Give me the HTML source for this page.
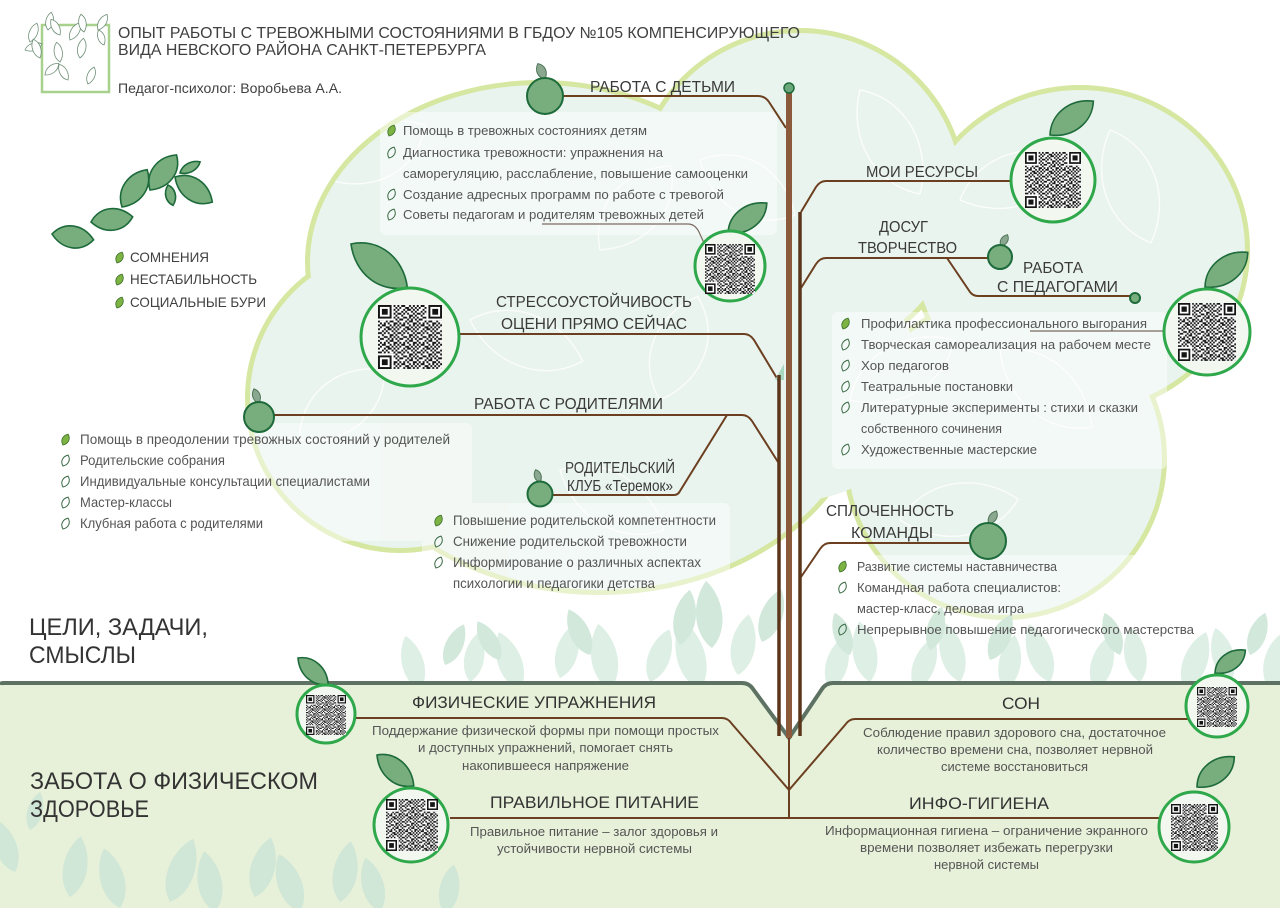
<!DOCTYPE html>
<html lang="ru">
<head>
<meta charset="utf-8">
<style>
html,body{margin:0;padding:0;background:#fff;}
body{width:1280px;height:908px;overflow:hidden;}
svg{display:block;}
text{font-family:"Liberation Sans",sans-serif;}
.t{fill:#404040;}
.li{fill:#555;font-size:13px;}
.pl{fill:#555;font-size:14px;}
.gd{fill:#555;font-size:13px;}
.lb{fill:#3a3a3a;font-size:16px;}
.gl{fill:#333;font-size:17px;}
.big{fill:#333;font-size:24px;}
.lf{vector-effect:non-scaling-stroke;}
</style>
</head>
<body>
<svg width="1280" height="908" viewBox="0 0 1280 908" xmlns="http://www.w3.org/2000/svg">
<defs>
  <path id="bgl" d="M0,0 C-16,-14 -13,-42 0,-56 C13,-42 16,-14 0,0Z"/>
  <pattern id="qp" width="20" height="20" patternUnits="userSpaceOnUse">
    <path fill="#151515" d="M0 0h2v2h-2z M4 0h4v2h-4z M12 0h2v2h-2z M16 0h2v2h-2z M2 2h2v2h-2z M8 2h4v2h-4z M14 2h2v2h-2z M18 2h2v2h-2z M0 4h2v2h-2z M6 4h2v2h-2z M10 4h4v2h-4z M16 4h2v2h-2z M4 6h2v2h-2z M8 6h2v2h-2z M14 6h2v2h-2z M18 6h2v2h-2z M0 8h4v2h-4z M6 8h2v2h-2z M10 8h2v2h-2z M16 8h2v2h-2z M4 10h2v2h-2z M12 10h4v2h-4z M18 10h2v2h-2z M0 12h2v2h-2z M6 12h4v2h-4z M12 12h2v2h-2z M16 12h2v2h-2z M2 14h4v2h-4z M10 14h2v2h-2z M14 14h2v2h-2z M18 14h2v2h-2z M0 16h2v2h-2z M8 16h2v2h-2z M12 16h4v2h-4z M2 18h2v2h-2z M6 18h2v2h-2z M10 18h2v2h-2z M16 18h4v2h-4z"/>
  </pattern>
  <symbol id="qr" viewBox="0 0 66 66">
    <rect width="66" height="66" fill="#fff"/>
    <rect width="66" height="66" fill="url(#qp)"/>
    <rect x="0" y="0" width="16" height="16" fill="#fff"/>
    <rect x="50" y="0" width="16" height="16" fill="#fff"/>
    <rect x="0" y="50" width="16" height="16" fill="#fff"/>
    <rect x="0" y="0" width="14" height="14" fill="#151515"/>
    <rect x="2" y="2" width="10" height="10" fill="#fff"/>
    <rect x="4" y="4" width="6" height="6" fill="#151515"/>
    <rect x="52" y="0" width="14" height="14" fill="#151515"/>
    <rect x="54" y="2" width="10" height="10" fill="#fff"/>
    <rect x="56" y="4" width="6" height="6" fill="#151515"/>
    <rect x="0" y="52" width="14" height="14" fill="#151515"/>
    <rect x="2" y="54" width="10" height="10" fill="#fff"/>
    <rect x="4" y="56" width="6" height="6" fill="#151515"/>
  </symbol>
  <clipPath id="cloudclip">
    <ellipse cx="540" cy="262" rx="230" ry="177"/>
    <circle cx="800" cy="195" r="162"/>
    <ellipse cx="1080" cy="250" rx="165" ry="160"/>
    <circle cx="400" cy="398" r="150"/>
    <ellipse cx="600" cy="385" rx="265" ry="205"/>
    <circle cx="1005" cy="458" r="157"/>
    <circle cx="800" cy="380" r="120"/>
  </clipPath>
</defs>

<rect width="1280" height="908" fill="#fff"/>

<!-- header logo -->
<rect x="42" y="25" width="67" height="67" fill="none" stroke="#a9d18e" stroke-width="2.5"/>
<g fill="#fff" stroke="#6f8f77" stroke-width="0.8">
  <path class="lf" vector-effect="non-scaling-stroke" d="M0,0C.25,-.5 .7,-.5 1,0C.75,.5 .3,.5 0,0Z" transform="translate(30,42) rotate(-70) scale(20,11)"/>
  <path class="lf" vector-effect="non-scaling-stroke" d="M0,0C.25,-.5 .7,-.5 1,0C.75,.5 .3,.5 0,0Z" transform="translate(25,50) rotate(-20) scale(18,10)"/>
  <path class="lf" vector-effect="non-scaling-stroke" d="M0,0C.25,-.5 .7,-.5 1,0C.75,.5 .3,.5 0,0Z" transform="translate(40,58) rotate(-110) scale(20,11)"/>
  <path class="lf" vector-effect="non-scaling-stroke" d="M0,0C.25,-.5 .7,-.5 1,0C.75,.5 .3,.5 0,0Z" transform="translate(48,30) rotate(-80) scale(18,10)"/>
  <path class="lf" vector-effect="non-scaling-stroke" d="M0,0C.25,-.5 .7,-.5 1,0C.75,.5 .3,.5 0,0Z" transform="translate(60,35) rotate(-120) scale(18,10)"/>
  <path class="lf" vector-effect="non-scaling-stroke" d="M0,0C.25,-.5 .7,-.5 1,0C.75,.5 .3,.5 0,0Z" transform="translate(70,40) rotate(-60) scale(20,11)"/>
  <path class="lf" vector-effect="non-scaling-stroke" d="M0,0C.25,-.5 .7,-.5 1,0C.75,.5 .3,.5 0,0Z" transform="translate(84,32) rotate(-100) scale(18,10)"/>
  <path class="lf" vector-effect="non-scaling-stroke" d="M0,0C.25,-.5 .7,-.5 1,0C.75,.5 .3,.5 0,0Z" transform="translate(98,30) rotate(-60) scale(18,10)"/>
  <path class="lf" vector-effect="non-scaling-stroke" d="M0,0C.25,-.5 .7,-.5 1,0C.75,.5 .3,.5 0,0Z" transform="translate(104,45) rotate(-110) scale(16,9)"/>
  <path class="lf" vector-effect="non-scaling-stroke" d="M0,0C.25,-.5 .7,-.5 1,0C.75,.5 .3,.5 0,0Z" transform="translate(80,58) rotate(-80) scale(20,11)"/>
  <path class="lf" vector-effect="non-scaling-stroke" d="M0,0C.25,-.5 .7,-.5 1,0C.75,.5 .3,.5 0,0Z" transform="translate(60,62) rotate(-100) scale(20,11)"/>
  <path class="lf" vector-effect="non-scaling-stroke" d="M0,0C.25,-.5 .7,-.5 1,0C.75,.5 .3,.5 0,0Z" transform="translate(45,75) rotate(-40) scale(18,10)"/>
  <path class="lf" vector-effect="non-scaling-stroke" d="M0,0C.25,-.5 .7,-.5 1,0C.75,.5 .3,.5 0,0Z" transform="translate(68,80) rotate(-120) scale(18,10)"/>
  <path class="lf" vector-effect="non-scaling-stroke" d="M0,0C.25,-.5 .7,-.5 1,0C.75,.5 .3,.5 0,0Z" transform="translate(88,84) rotate(-70) scale(18,10)"/>
</g>

<!-- cloud -->
<g fill="none" stroke="#d6e7a2" stroke-width="10">
  <ellipse cx="540" cy="262" rx="230" ry="177"/>
  <circle cx="800" cy="195" r="162"/>
  <ellipse cx="1080" cy="250" rx="165" ry="160"/>
  <circle cx="400" cy="398" r="150"/>
  <ellipse cx="600" cy="385" rx="265" ry="205"/>
  <circle cx="1005" cy="458" r="157"/>
</g>
<g fill="#eaf4ee">
  <ellipse cx="540" cy="262" rx="230" ry="177"/>
  <circle cx="800" cy="195" r="162"/>
  <ellipse cx="1080" cy="250" rx="165" ry="160"/>
  <circle cx="400" cy="398" r="150"/>
  <ellipse cx="600" cy="385" rx="265" ry="205"/>
  <circle cx="1005" cy="458" r="157"/>
  <circle cx="800" cy="380" r="120"/>
</g>
<g clip-path="url(#cloudclip)" fill="none" stroke="#ffffff" stroke-width="1.4" opacity="0.8">
  <path class="lf" vector-effect="non-scaling-stroke" d="M0,0C.25,-.5 .7,-.5 1,0C.75,.5 .3,.5 0,0Z" transform="translate(330,180) rotate(-30) scale(110,70)"/>
  <path class="lf" vector-effect="non-scaling-stroke" d="M0,0C.25,-.5 .7,-.5 1,0C.75,.5 .3,.5 0,0Z" transform="translate(470,320) rotate(20) scale(120,70)"/>
  <path class="lf" vector-effect="non-scaling-stroke" d="M0,0C.25,-.5 .7,-.5 1,0C.75,.5 .3,.5 0,0Z" transform="translate(600,250) rotate(-50) scale(110,70)"/>
  <path class="lf" vector-effect="non-scaling-stroke" d="M0,0C.25,-.5 .7,-.5 1,0C.75,.5 .3,.5 0,0Z" transform="translate(700,160) rotate(30) scale(110,70)"/>
  <path class="lf" vector-effect="non-scaling-stroke" d="M0,0C.25,-.5 .7,-.5 1,0C.75,.5 .3,.5 0,0Z" transform="translate(860,90) rotate(60) scale(120,70)"/>
  <path class="lf" vector-effect="non-scaling-stroke" d="M0,0C.25,-.5 .7,-.5 1,0C.75,.5 .3,.5 0,0Z" transform="translate(960,200) rotate(-20) scale(120,70)"/>
  <path class="lf" vector-effect="non-scaling-stroke" d="M0,0C.25,-.5 .7,-.5 1,0C.75,.5 .3,.5 0,0Z" transform="translate(1110,130) rotate(70) scale(120,70)"/>
  <path class="lf" vector-effect="non-scaling-stroke" d="M0,0C.25,-.5 .7,-.5 1,0C.75,.5 .3,.5 0,0Z" transform="translate(300,440) rotate(-40) scale(110,70)"/>
  <path class="lf" vector-effect="non-scaling-stroke" d="M0,0C.25,-.5 .7,-.5 1,0C.75,.5 .3,.5 0,0Z" transform="translate(560,470) rotate(30) scale(120,70)"/>
  <path class="lf" vector-effect="non-scaling-stroke" d="M0,0C.25,-.5 .7,-.5 1,0C.75,.5 .3,.5 0,0Z" transform="translate(850,400) rotate(-30) scale(120,70)"/>
  <path class="lf" vector-effect="non-scaling-stroke" d="M0,0C.25,-.5 .7,-.5 1,0C.75,.5 .3,.5 0,0Z" transform="translate(1000,350) rotate(40) scale(120,70)"/>
  <path class="lf" vector-effect="non-scaling-stroke" d="M0,0C.25,-.5 .7,-.5 1,0C.75,.5 .3,.5 0,0Z" transform="translate(900,520) rotate(-10) scale(120,70)"/>
  <path class="lf" vector-effect="non-scaling-stroke" d="M0,0C.25,-.5 .7,-.5 1,0C.75,.5 .3,.5 0,0Z" transform="translate(660,400) rotate(-70) scale(110,70)"/>
</g>

<!-- header text -->
<text class="t" x="118" y="38" font-size="16" textLength="682" lengthAdjust="spacingAndGlyphs">ОПЫТ РАБОТЫ С ТРЕВОЖНЫМИ СОСТОЯНИЯМИ В ГБДОУ №105 КОМПЕНСИРУЮЩЕГО</text>
<text class="t" x="118" y="55" font-size="16" textLength="368" lengthAdjust="spacingAndGlyphs">ВИДА НЕВСКОГО РАЙОНА САНКТ-ПЕТЕРБУРГА</text>
<text class="t" x="118" y="93" font-size="14" textLength="224" lengthAdjust="spacingAndGlyphs">Педагог-психолог: Воробьева А.А.</text>

<!-- list boxes -->
<g fill="#ffffff" opacity="0.45">
  <rect x="380" y="112" width="397" height="123" rx="6"/>
  <rect x="60" y="423" width="412" height="118" rx="6"/>
  <rect x="422" y="503" width="308" height="99" rx="6"/>
  <rect x="832" y="312" width="335" height="157" rx="6"/>
  <rect x="820" y="555" width="390" height="90" rx="6"/>
</g>

<!-- faint leaves above ground -->
<g fill="#deefe5">
  <use href="#bgl" transform="translate(420,690) rotate(-15)"/>
  <use href="#bgl" transform="translate(470,682) rotate(10) scale(0.9)"/>
  <use href="#bgl" transform="translate(520,690) rotate(-20) scale(1.1)"/>
  <use href="#bgl" transform="translate(560,678) rotate(15)"/>
  <use href="#bgl" transform="translate(610,690) rotate(-10) scale(1.2)"/>
  <use href="#bgl" transform="translate(650,682) rotate(20)"/>
  <use href="#bgl" transform="translate(700,690) rotate(-15) scale(1.3)"/>
  <use href="#bgl" transform="translate(738,675) rotate(10) scale(1.1)"/>
  <use href="#bgl" transform="translate(830,690) rotate(15)"/>
  <use href="#bgl" transform="translate(870,682) rotate(-10) scale(1.1)"/>
  <use href="#bgl" transform="translate(915,690) rotate(20)"/>
  <use href="#bgl" transform="translate(960,682) rotate(-15) scale(1.1)"/>
  <use href="#bgl" transform="translate(1005,690) rotate(10)"/>
  <use href="#bgl" transform="translate(1050,682) rotate(-20) scale(1.1)"/>
  <use href="#bgl" transform="translate(1095,690) rotate(15)"/>
  <use href="#bgl" transform="translate(1140,682) rotate(-10)"/>
  <use href="#bgl" transform="translate(1185,690) rotate(20) scale(1.1)"/>
  <use href="#bgl" transform="translate(1230,682) rotate(-15)"/>
  <use href="#bgl" transform="translate(1270,690) rotate(10)"/>
</g>
<g fill="#d2e8db">
  <use href="#bgl" transform="translate(445,665) rotate(25) scale(0.8)"/>
  <use href="#bgl" transform="translate(590,655) rotate(-25) scale(0.9)"/>
  <use href="#bgl" transform="translate(680,645) rotate(10)"/>
  <use href="#bgl" transform="translate(712,648) rotate(-5) scale(1.2)"/>
  <use href="#bgl" transform="translate(762,642) rotate(20)"/>
  <use href="#bgl" transform="translate(850,655) rotate(-20) scale(0.8)"/>
  <use href="#bgl" transform="translate(990,660) rotate(25) scale(0.9)"/>
  <use href="#bgl" transform="translate(1120,655) rotate(-20) scale(0.8)"/>
  <use href="#bgl" transform="translate(1250,655) rotate(20) scale(0.8)"/>
  <use href="#bgl" transform="translate(500,660) rotate(-30) scale(0.8)"/>
  <use href="#bgl" transform="translate(930,650) rotate(15) scale(0.8)"/>
</g>

<!-- ground -->
<path d="M0,683 H742 Q749,683 753,689 L789,738 L822,689 Q826,683 833,683 H1280 V908 H0 Z" fill="#e7f1d9"/>
<g fill="#d0e6d6">
  <use href="#bgl" transform="translate(15,872) rotate(-20)"/>
  <use href="#bgl" transform="translate(30,830) rotate(15) scale(0.7)"/>
  <use href="#bgl" transform="translate(70,897) rotate(10) scale(1.1)"/>
  <use href="#bgl" transform="translate(120,908) rotate(-15) scale(1.1)"/>
  <use href="#bgl" transform="translate(170,902) rotate(20) scale(1.2)"/>
  <use href="#bgl" transform="translate(215,912) rotate(-10) scale(1.1)"/>
  <use href="#bgl" transform="translate(255,897) rotate(15) scale(1.1)"/>
  <use href="#bgl" transform="translate(300,912) rotate(-20) scale(1.1)"/>
  <use href="#bgl" transform="translate(340,902) rotate(10) scale(1.1)"/>
  <use href="#bgl" transform="translate(380,912) rotate(-15)"/>
  <use href="#bgl" transform="translate(445,914) rotate(10) scale(0.9)"/>
</g>
<path d="M0,685 Q0,683 4,683 H742 Q749,683 753,689 L789,738 L822,689 Q826,683 833,683 H1280" fill="none" stroke="#5e7263" stroke-width="4" stroke-linejoin="round"/>

<!-- connectors -->
<g fill="none" stroke="#6b3f1f" stroke-width="2" stroke-linejoin="round">
  <path d="M563,96 H758 Q765,96 769,102 L786,128"/>
  <path d="M1012,181 H826 Q820,181 816,187 L801,212"/>
  <path d="M989,258 H826 Q820,258 816,264 L801,288"/>
  <path d="M947,258 L970,292 Q973,296 978,296 H1131"/>
  <path d="M459,334 H744 Q750,334 754,340 L778,380"/>
  <path d="M274,415 H742 Q748,415 752,421 L778,462"/>
  <path d="M727,415 L680,491 Q678,495 674,495 H552"/>
  <path d="M971,543 H830 Q824,543 820,549 L801,577"/>
  <path d="M356,718 H722 Q728,718 732,724 L789,790"/>
  <path d="M1188,719 H855 Q849,719 845,725 L789,790"/>
  <path d="M789,736 V818"/>
  <path d="M450,818 H1163"/>
</g>
<g fill="none" stroke="#7a6a60" stroke-width="1.2">
  <path d="M542,224 H688 Q695,224 699,232 L704,243"/>
  <path d="M1030,331 H1164"/>
</g>

<!-- trunks -->
<polygon points="775,380 784,364 784,380" fill="#a8d8c0"/>
<path d="M779,375 V736" stroke="#5a3519" stroke-width="3.5"/>
<path d="M800,212 V736" stroke="#5a3519" stroke-width="3.5"/>
<path d="M789,90 V738" stroke="#8a5a3a" stroke-width="6"/>
<circle cx="789" cy="88" r="5" fill="#6aa77a" stroke="#1f6b3a" stroke-width="1.5"/>

<!-- big leaves -->
<g fill="#78ad7e" stroke="#1d6a3a" stroke-width="1.6">
  <path class="lf" vector-effect="non-scaling-stroke" d="M0,0C.25,-.5 .7,-.5 1,0C.75,.5 .3,.5 0,0Z" transform="translate(351,244) rotate(37.5) scale(71,43)"/>
  <path class="lf" vector-effect="non-scaling-stroke" d="M0,0C.25,-.5 .7,-.5 1,0C.75,.5 .3,.5 0,0Z" transform="translate(728,233) rotate(-37.6) scale(49,29)"/>
  <path class="lf" vector-effect="non-scaling-stroke" d="M0,0C.25,-.5 .7,-.5 1,0C.75,.5 .3,.5 0,0Z" transform="translate(1050,135) rotate(-38) scale(55,33)"/>
  <path class="lf" vector-effect="non-scaling-stroke" d="M0,0C.25,-.5 .7,-.5 1,0C.75,.5 .3,.5 0,0Z" transform="translate(1205,287) rotate(-39) scale(55,33)"/>
  <path class="lf" vector-effect="non-scaling-stroke" d="M0,0C.25,-.5 .7,-.5 1,0C.75,.5 .3,.5 0,0Z" transform="translate(298,658) rotate(41) scale(40,24)"/>
  <path class="lf" vector-effect="non-scaling-stroke" d="M0,0C.25,-.5 .7,-.5 1,0C.75,.5 .3,.5 0,0Z" transform="translate(377,755) rotate(40) scale(48,29)"/>
  <path class="lf" vector-effect="non-scaling-stroke" d="M0,0C.25,-.5 .7,-.5 1,0C.75,.5 .3,.5 0,0Z" transform="translate(1215,673) rotate(-37) scale(38,23)"/>
  <path class="lf" vector-effect="non-scaling-stroke" d="M0,0C.25,-.5 .7,-.5 1,0C.75,.5 .3,.5 0,0Z" transform="translate(1197,787) rotate(-39) scale(48,29)"/>
  <!-- left cluster -->
  <path class="lf" vector-effect="non-scaling-stroke" d="M0,0C.25,-.5 .7,-.5 1,0C.75,.5 .3,.5 0,0Z" transform="translate(52,234) rotate(8) scale(42,29)"/>
  <path class="lf" vector-effect="non-scaling-stroke" d="M0,0C.25,-.5 .7,-.5 1,0C.75,.5 .3,.5 0,0Z" transform="translate(91,222) rotate(-7) scale(42,29)"/>
  <path class="lf" vector-effect="non-scaling-stroke" d="M0,0C.25,-.5 .7,-.5 1,0C.75,.5 .3,.5 0,0Z" transform="translate(122,207) rotate(-56) scale(45,29)"/>
  <path class="lf" vector-effect="non-scaling-stroke" d="M0,0C.25,-.5 .7,-.5 1,0C.75,.5 .3,.5 0,0Z" transform="translate(150,190) rotate(-53) scale(44,29)"/>
  <path class="lf" vector-effect="non-scaling-stroke" d="M0,0C.25,-.5 .7,-.5 1,0C.75,.5 .3,.5 0,0Z" transform="translate(180,173) rotate(-29) scale(23,12)"/>
  <path class="lf" vector-effect="non-scaling-stroke" d="M0,0C.25,-.5 .7,-.5 1,0C.75,.5 .3,.5 0,0Z" transform="translate(168,185) rotate(76) scale(21,13)"/>
  <path class="lf" vector-effect="non-scaling-stroke" d="M0,0C.25,-.5 .7,-.5 1,0C.75,.5 .3,.5 0,0Z" transform="translate(175,177) rotate(34) scale(45,29)"/>
</g>

<!-- stem leaves -->
<g fill="#8aa88f" stroke="#4f7558" stroke-width="1">
  <path class="lf" vector-effect="non-scaling-stroke" d="M0,0C.25,-.5 .7,-.5 1,0C.75,.5 .3,.5 0,0Z" transform="translate(545,79) rotate(-115) scale(17,12)"/>
  <path class="lf" vector-effect="non-scaling-stroke" d="M0,0C.25,-.5 .7,-.5 1,0C.75,.5 .3,.5 0,0Z" transform="translate(259,403) rotate(-110) scale(15,10)"/>
  <path class="lf" vector-effect="non-scaling-stroke" d="M0,0C.25,-.5 .7,-.5 1,0C.75,.5 .3,.5 0,0Z" transform="translate(540,482) rotate(-110) scale(13,9)"/>
  <path class="lf" vector-effect="non-scaling-stroke" d="M0,0C.25,-.5 .7,-.5 1,0C.75,.5 .3,.5 0,0Z" transform="translate(1001,246) rotate(-60) scale(13,9)"/>
  <path class="lf" vector-effect="non-scaling-stroke" d="M0,0C.25,-.5 .7,-.5 1,0C.75,.5 .3,.5 0,0Z" transform="translate(989,524) rotate(-60) scale(15,10)"/>
</g>

<!-- apples -->
<g fill="#78ad7e" stroke="#1d6a3a" stroke-width="2">
  <circle cx="545" cy="96" r="18"/>
  <circle cx="259" cy="417" r="15"/>
  <circle cx="540" cy="494" r="12.5"/>
  <circle cx="1000" cy="257" r="12"/>
  <circle cx="988" cy="541" r="18"/>
  <circle cx="1135" cy="298" r="5"/>
</g>

<!-- QR circles -->
<g fill="#f2f7f0" stroke="#2ea84a" stroke-width="3">
  <circle cx="730" cy="266" r="35"/>
  <circle cx="410" cy="337" r="49"/>
  <circle cx="1053" cy="180" r="42"/>
  <circle cx="1207" cy="332" r="43"/>
  <circle cx="326" cy="714" r="29"/>
  <circle cx="411" cy="825" r="37"/>
  <circle cx="1217" cy="706" r="31"/>
  <circle cx="1194" cy="827" r="35"/>
</g>
<use href="#qr" x="705" y="244" width="50" height="50"/>
<use href="#qr" x="378" y="305" width="64" height="64"/>
<use href="#qr" x="1025" y="152" width="56" height="56"/>
<use href="#qr" x="1178" y="303" width="58" height="58"/>
<use href="#qr" x="306" y="695" width="40" height="40"/>
<use href="#qr" x="386" y="799" width="52" height="52"/>
<use href="#qr" x="1197" y="687" width="40" height="40"/>
<use href="#qr" x="1171" y="804" width="47" height="47"/>

<!-- bullets -->
<g fill="#7cb342" stroke="#3b6e2a" stroke-width="0.8">
  <path class="lf" vector-effect="non-scaling-stroke" d="M0,0C.25,-.5 .7,-.5 1,0C.75,.5 .3,.5 0,0Z" transform="translate(389,136) rotate(-65) scale(12,9)"/>
  <path class="lf" vector-effect="non-scaling-stroke" d="M0,0C.25,-.5 .7,-.5 1,0C.75,.5 .3,.5 0,0Z" transform="translate(117,263) rotate(-65) scale(12,9)"/>
  <path class="lf" vector-effect="non-scaling-stroke" d="M0,0C.25,-.5 .7,-.5 1,0C.75,.5 .3,.5 0,0Z" transform="translate(117,285) rotate(-65) scale(12,9)"/>
  <path class="lf" vector-effect="non-scaling-stroke" d="M0,0C.25,-.5 .7,-.5 1,0C.75,.5 .3,.5 0,0Z" transform="translate(117,308) rotate(-65) scale(12,9)"/>
  <path class="lf" vector-effect="non-scaling-stroke" d="M0,0C.25,-.5 .7,-.5 1,0C.75,.5 .3,.5 0,0Z" transform="translate(63,445) rotate(-65) scale(12,9)"/>
  <path class="lf" vector-effect="non-scaling-stroke" d="M0,0C.25,-.5 .7,-.5 1,0C.75,.5 .3,.5 0,0Z" transform="translate(436,526) rotate(-65) scale(12,9)"/>
  <path class="lf" vector-effect="non-scaling-stroke" d="M0,0C.25,-.5 .7,-.5 1,0C.75,.5 .3,.5 0,0Z" transform="translate(843,329) rotate(-65) scale(12,9)"/>
  <path class="lf" vector-effect="non-scaling-stroke" d="M0,0C.25,-.5 .7,-.5 1,0C.75,.5 .3,.5 0,0Z" transform="translate(840,572) rotate(-65) scale(12,9)"/>
</g>
<g fill="none" stroke="#3a6a45" stroke-width="1">
  <path class="lf" vector-effect="non-scaling-stroke" d="M0,0C.25,-.5 .7,-.5 1,0C.75,.5 .3,.5 0,0Z" transform="translate(389,158) rotate(-65) scale(12,9)"/>
  <path class="lf" vector-effect="non-scaling-stroke" d="M0,0C.25,-.5 .7,-.5 1,0C.75,.5 .3,.5 0,0Z" transform="translate(389,200) rotate(-65) scale(12,9)"/>
  <path class="lf" vector-effect="non-scaling-stroke" d="M0,0C.25,-.5 .7,-.5 1,0C.75,.5 .3,.5 0,0Z" transform="translate(389,220) rotate(-65) scale(12,9)"/>
  <path class="lf" vector-effect="non-scaling-stroke" d="M0,0C.25,-.5 .7,-.5 1,0C.75,.5 .3,.5 0,0Z" transform="translate(63,466) rotate(-65) scale(12,9)"/>
  <path class="lf" vector-effect="non-scaling-stroke" d="M0,0C.25,-.5 .7,-.5 1,0C.75,.5 .3,.5 0,0Z" transform="translate(63,487) rotate(-65) scale(12,9)"/>
  <path class="lf" vector-effect="non-scaling-stroke" d="M0,0C.25,-.5 .7,-.5 1,0C.75,.5 .3,.5 0,0Z" transform="translate(63,508) rotate(-65) scale(12,9)"/>
  <path class="lf" vector-effect="non-scaling-stroke" d="M0,0C.25,-.5 .7,-.5 1,0C.75,.5 .3,.5 0,0Z" transform="translate(63,529) rotate(-65) scale(12,9)"/>
  <path class="lf" vector-effect="non-scaling-stroke" d="M0,0C.25,-.5 .7,-.5 1,0C.75,.5 .3,.5 0,0Z" transform="translate(436,547) rotate(-65) scale(12,9)"/>
  <path class="lf" vector-effect="non-scaling-stroke" d="M0,0C.25,-.5 .7,-.5 1,0C.75,.5 .3,.5 0,0Z" transform="translate(436,568) rotate(-65) scale(12,9)"/>
  <path class="lf" vector-effect="non-scaling-stroke" d="M0,0C.25,-.5 .7,-.5 1,0C.75,.5 .3,.5 0,0Z" transform="translate(843,350) rotate(-65) scale(12,9)"/>
  <path class="lf" vector-effect="non-scaling-stroke" d="M0,0C.25,-.5 .7,-.5 1,0C.75,.5 .3,.5 0,0Z" transform="translate(843,371) rotate(-65) scale(12,9)"/>
  <path class="lf" vector-effect="non-scaling-stroke" d="M0,0C.25,-.5 .7,-.5 1,0C.75,.5 .3,.5 0,0Z" transform="translate(843,392) rotate(-65) scale(12,9)"/>
  <path class="lf" vector-effect="non-scaling-stroke" d="M0,0C.25,-.5 .7,-.5 1,0C.75,.5 .3,.5 0,0Z" transform="translate(843,413) rotate(-65) scale(12,9)"/>
  <path class="lf" vector-effect="non-scaling-stroke" d="M0,0C.25,-.5 .7,-.5 1,0C.75,.5 .3,.5 0,0Z" transform="translate(843,455) rotate(-65) scale(12,9)"/>
  <path class="lf" vector-effect="non-scaling-stroke" d="M0,0C.25,-.5 .7,-.5 1,0C.75,.5 .3,.5 0,0Z" transform="translate(840,593) rotate(-65) scale(12,9)"/>
  <path class="lf" vector-effect="non-scaling-stroke" d="M0,0C.25,-.5 .7,-.5 1,0C.75,.5 .3,.5 0,0Z" transform="translate(840,635) rotate(-65) scale(12,9)"/>
</g>

<!-- tree labels -->
<text class="lb" x="590" y="92" textLength="145" lengthAdjust="spacingAndGlyphs">РАБОТА С ДЕТЬМИ</text>
<text class="li" x="403" y="135" textLength="244" lengthAdjust="spacingAndGlyphs">Помощь в тревожных состояниях детям</text>
<text class="li" x="403" y="157" textLength="260" lengthAdjust="spacingAndGlyphs">Диагностика тревожности: упражнения на</text>
<text class="li" x="403" y="178" textLength="345" lengthAdjust="spacingAndGlyphs">саморегуляцию, расслабление, повышение самооценки</text>
<text class="li" x="403" y="199" textLength="321" lengthAdjust="spacingAndGlyphs">Создание адресных программ по работе с тревогой</text>
<text class="li" x="403" y="219" textLength="301" lengthAdjust="spacingAndGlyphs">Советы педагогам и родителям тревожных детей</text>

<text class="t" x="130" y="262" font-size="14" textLength="79" lengthAdjust="spacingAndGlyphs">СОМНЕНИЯ</text>
<text class="t" x="130" y="284" font-size="14" textLength="127" lengthAdjust="spacingAndGlyphs">НЕСТАБИЛЬНОСТЬ</text>
<text class="t" x="130" y="307" font-size="14" textLength="136" lengthAdjust="spacingAndGlyphs">СОЦИАЛЬНЫЕ БУРИ</text>

<text class="lb" x="496" y="307" textLength="196" lengthAdjust="spacingAndGlyphs">СТРЕССОУСТОЙЧИВОСТЬ</text>
<text class="lb" x="501" y="329" textLength="186" lengthAdjust="spacingAndGlyphs">ОЦЕНИ ПРЯМО СЕЙЧАС</text>
<text class="lb" x="474" y="409" textLength="189" lengthAdjust="spacingAndGlyphs">РАБОТА С РОДИТЕЛЯМИ</text>
<text class="lb" x="565" y="473" font-size="14" textLength="110" lengthAdjust="spacingAndGlyphs">РОДИТЕЛЬСКИЙ</text>
<text class="lb" x="567" y="491" font-size="14" textLength="106" lengthAdjust="spacingAndGlyphs">КЛУБ «Теремок»</text>

<text class="pl" x="80" y="444" textLength="370" lengthAdjust="spacingAndGlyphs">Помощь в преодолении тревожных состояний у  родителей</text>
<text class="pl" x="80" y="465" textLength="145" lengthAdjust="spacingAndGlyphs">Родительские собрания</text>
<text class="pl" x="80" y="486" textLength="290" lengthAdjust="spacingAndGlyphs">Индивидуальные консультации специалистами</text>
<text class="pl" x="80" y="507" textLength="92" lengthAdjust="spacingAndGlyphs">Мастер-классы</text>
<text class="pl" x="80" y="528" textLength="183" lengthAdjust="spacingAndGlyphs">Клубная работа с родителями</text>

<text class="pl" x="453" y="525" textLength="263" lengthAdjust="spacingAndGlyphs">Повышение родительской компетентности</text>
<text class="pl" x="453" y="546" textLength="234" lengthAdjust="spacingAndGlyphs">Снижение родительской тревожности</text>
<text class="pl" x="453" y="567" textLength="248" lengthAdjust="spacingAndGlyphs">Информирование о различных аспектах</text>
<text class="pl" x="453" y="588" textLength="202" lengthAdjust="spacingAndGlyphs">психологии и педагогики детства</text>

<text class="lb" x="866" y="177" textLength="112" lengthAdjust="spacingAndGlyphs">МОИ РЕСУРСЫ</text>
<text class="lb" x="879" y="232" textLength="49" lengthAdjust="spacingAndGlyphs">ДОСУГ</text>
<text class="lb" x="858" y="253" textLength="99" lengthAdjust="spacingAndGlyphs">ТВОРЧЕСТВО</text>
<text class="lb" x="1023" y="273" textLength="60" lengthAdjust="spacingAndGlyphs">РАБОТА</text>
<text class="lb" x="997" y="292" textLength="121" lengthAdjust="spacingAndGlyphs">С ПЕДАГОГАМИ</text>

<text class="li" x="861" y="328" textLength="286" lengthAdjust="spacingAndGlyphs">Профилактика профессионального выгорания</text>
<text class="li" x="861" y="349" textLength="290" lengthAdjust="spacingAndGlyphs">Творческая самореализация на рабочем месте</text>
<text class="li" x="861" y="370" textLength="88" lengthAdjust="spacingAndGlyphs">Хор педагогов</text>
<text class="li" x="861" y="391" textLength="152" lengthAdjust="spacingAndGlyphs">Театральные постановки</text>
<text class="li" x="861" y="412" textLength="277" lengthAdjust="spacingAndGlyphs">Литературные эксперименты : стихи и сказки</text>
<text class="li" x="861" y="433" textLength="141" lengthAdjust="spacingAndGlyphs">собственного сочинения</text>
<text class="li" x="861" y="454" textLength="176" lengthAdjust="spacingAndGlyphs">Художественные мастерские</text>

<text class="lb" x="826" y="516" textLength="128" lengthAdjust="spacingAndGlyphs">СПЛОЧЕННОСТЬ</text>
<text class="lb" x="851" y="538" textLength="82" lengthAdjust="spacingAndGlyphs">КОМАНДЫ</text>
<text class="li" x="857" y="571" textLength="200" lengthAdjust="spacingAndGlyphs">Развитие системы наставничества</text>
<text class="li" x="857" y="592" textLength="204" lengthAdjust="spacingAndGlyphs">Командная работа специалистов:</text>
<text class="li" x="857" y="613" textLength="167" lengthAdjust="spacingAndGlyphs">мастер-класс, деловая игра</text>
<text class="li" x="857" y="634" textLength="337" lengthAdjust="spacingAndGlyphs">Непрерывное повышение педагогического мастерства</text>

<text class="big" x="29" y="635" textLength="179" lengthAdjust="spacingAndGlyphs">ЦЕЛИ, ЗАДАЧИ,</text>
<text class="big" x="29" y="663" textLength="107" lengthAdjust="spacingAndGlyphs">СМЫСЛЫ</text>

<!-- ground labels -->
<text class="gl" x="412" y="708" textLength="244" lengthAdjust="spacingAndGlyphs">ФИЗИЧЕСКИЕ УПРАЖНЕНИЯ</text>
<text class="gd" x="372" y="735" textLength="347" lengthAdjust="spacingAndGlyphs">Поддержание физической формы при помощи простых</text>
<text class="gd" x="418" y="752" textLength="255" lengthAdjust="spacingAndGlyphs">и доступных упражнений, помогает снять</text>
<text class="gd" x="462" y="770" textLength="167" lengthAdjust="spacingAndGlyphs">накопившееся напряжение</text>

<text class="gl" x="490" y="808" textLength="209" lengthAdjust="spacingAndGlyphs">ПРАВИЛЬНОЕ ПИТАНИЕ</text>
<text class="gd" x="470" y="836" textLength="248" lengthAdjust="spacingAndGlyphs">Правильное питание – залог здоровья и</text>
<text class="gd" x="497" y="853" textLength="195" lengthAdjust="spacingAndGlyphs">устойчивости нервной системы</text>

<text class="big" x="30" y="789" textLength="288" lengthAdjust="spacingAndGlyphs">ЗАБОТА О ФИЗИЧЕСКОМ</text>
<text class="big" x="30" y="817" textLength="119" lengthAdjust="spacingAndGlyphs">ЗДОРОВЬЕ</text>

<text class="gl" x="1002" y="709" textLength="38" lengthAdjust="spacingAndGlyphs">СОН</text>
<text class="gd" x="863" y="737" textLength="303" lengthAdjust="spacingAndGlyphs">Соблюдение правил здорового сна, достаточное</text>
<text class="gd" x="877" y="754" textLength="276" lengthAdjust="spacingAndGlyphs">количество времени сна, позволяет нервной</text>
<text class="gd" x="941" y="771" textLength="147" lengthAdjust="spacingAndGlyphs">системе восстановиться</text>

<text class="gl" x="909" y="809" textLength="140" lengthAdjust="spacingAndGlyphs">ИНФО-ГИГИЕНА</text>
<text class="gd" x="825" y="835" textLength="323" lengthAdjust="spacingAndGlyphs">Информационная гигиена – ограничение экранного</text>
<text class="gd" x="860" y="852" textLength="253" lengthAdjust="spacingAndGlyphs">времени позволяет избежать перегрузки</text>
<text class="gd" x="934" y="869" textLength="105" lengthAdjust="spacingAndGlyphs">нервной системы</text>
</svg>
</body>
</html>
